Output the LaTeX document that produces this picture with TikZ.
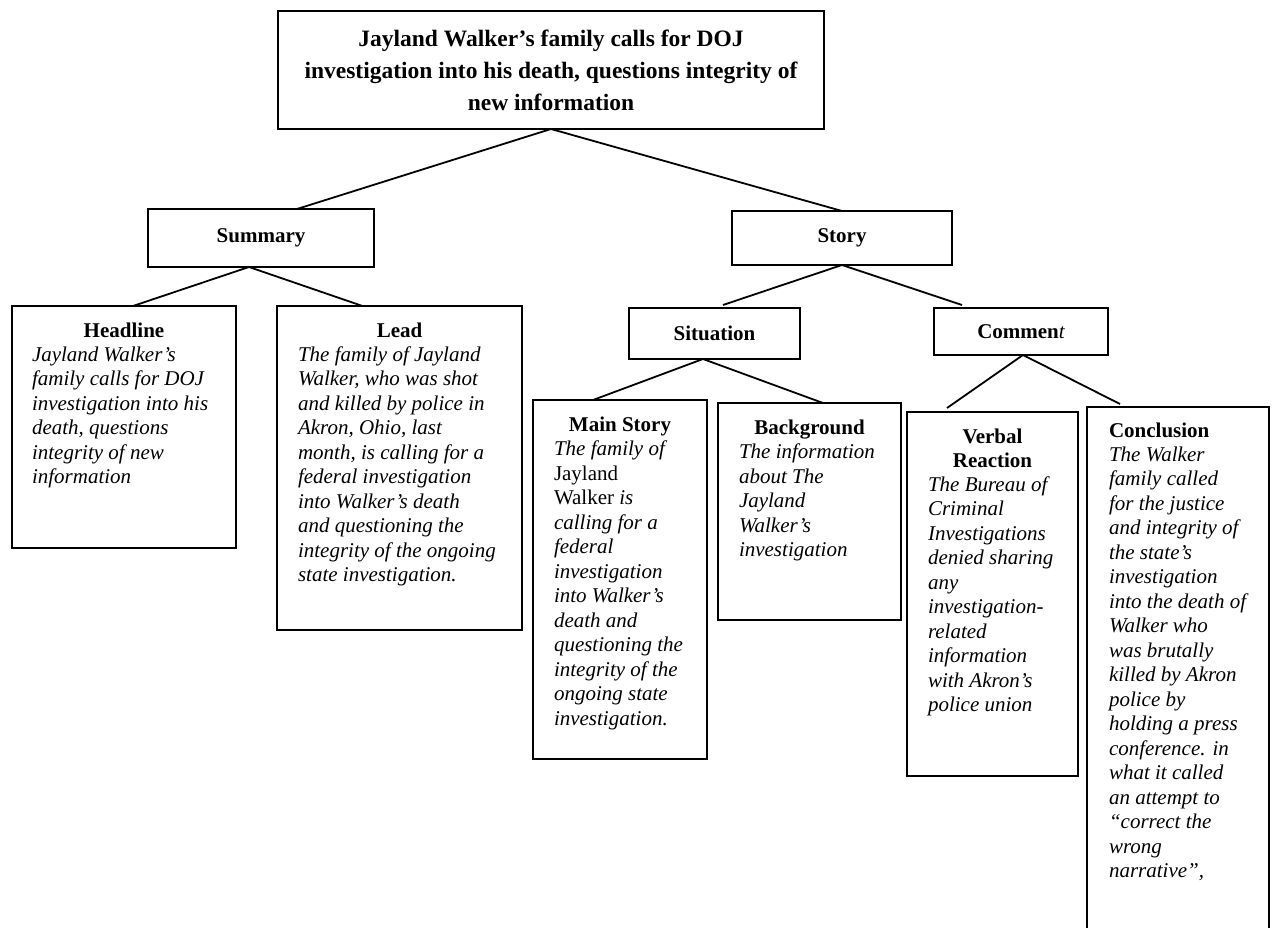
\documentclass[tikz,border=0pt]{standalone}
\usepackage{fontspec}
\setmainfont{Liberation Serif}
\begin{document}
\begin{tikzpicture}[x=1pt,y=-1pt,
  box/.style={draw=black, line width=2pt, rectangle, inner sep=0pt, outer sep=0pt, anchor=north west},
  link/.style={draw=black, line width=1.8pt},
  head/.style={inner sep=0pt, outer sep=0pt, font=\fontsize{21}{24.5}\selectfont\bfseries},
  body/.style={inner sep=0pt, outer sep=0pt, anchor=base west, font=\fontsize{21}{24.5}\selectfont\itshape}
]
\useasboundingbox (0,0) rectangle (1275,928);
\clip (0,0) rectangle (1275,928);

% boxes of the tree
\node[box, minimum width=546pt, minimum height=118pt, align=center,
      font=\fontsize{23.5}{32}\selectfont\bfseries] (title) at (278,11)
  {Jayland Walker’s family calls for DOJ\\investigation into his death, questions integrity of\\new information};
\node[box, head, draw, line width=2pt, anchor=north west, minimum width=226pt, minimum height=58pt] (summary) at (148,209) {Summary};
\node[box, head, draw, line width=2pt, anchor=north west, minimum width=220pt, minimum height=54pt] (story) at (732,211) {Story};
\node[box, head, draw, line width=2pt, anchor=north west, minimum width=171pt, minimum height=51pt] (situation) at (629,308) {Situation};
\node[box, head, draw, line width=2pt, anchor=north west, minimum width=174pt, minimum height=47pt] (comment) at (934,308) {Commen{\mdseries\itshape t}};

\node[box, minimum width=224pt, minimum height=242pt] (headline) at (12,306) {};
\node[box, minimum width=245pt, minimum height=324pt] (lead) at (277,306) {};
\node[box, minimum width=174pt, minimum height=359pt] (main) at (533,400) {};
\node[box, minimum width=183pt, minimum height=217pt] (background) at (718,403) {};
\node[box, minimum width=171pt, minimum height=364pt] (verbal) at (907,412) {};
\node[box, minimum width=182pt, minimum height=540pt] (conclusion) at (1087,407) {};

% headings
\node[head, anchor=base] (headlineH) at (124,337) {Headline};
\node[head, anchor=base] (leadH) at (399.5,337) {Lead};
\node[head, anchor=base] (mainH) at (620,431) {Main Story};
\node[head, anchor=base] (backgroundH) at (809.5,434) {Background};
\node[head, anchor=base] (verbalH) at (992.5,443)
  {\begin{tabular}[t]{@{}c@{}}Verbal\\Reaction\end{tabular}};
\node[head, anchor=base west] (conclusionH) at (1109,437) {Conclusion};

% body texts
\node[body] (headlineT) at (32,361) {\begin{tabular}[t]{@{}l@{}}
Jayland Walker’s\\
family calls for DOJ\\
investigation into his\\
death, questions\\
integrity of new\\
information
\end{tabular}};

\node[body] (leadT) at (298,361) {\begin{tabular}[t]{@{}l@{}}
The family of Jayland\\
Walker, who was shot\\
and killed by police in\\
Akron, Ohio, last\\
month, is calling for a\\
federal investigation\\
into Walker’s death\\
and questioning the\\
integrity of the ongoing\\
state investigation.
\end{tabular}};

\node[body] (mainT) at (554,455.5) {\begin{tabular}[t]{@{}l@{}}
The family of\\
{\upshape Jayland}\\
{\upshape Walker} is\\
calling for a\\
federal\\
investigation\\
into Walker’s\\
death and\\
questioning the\\
integrity of the\\
ongoing state\\
investigation.
\end{tabular}};

\node[body] (backgroundT) at (739,458.5) {\begin{tabular}[t]{@{}l@{}}
The information\\
about The\\
Jayland\\
Walker’s\\
investigation
\end{tabular}};

\node[body] (verbalT) at (928,491) {\begin{tabular}[t]{@{}l@{}}
The Bureau of\\
Criminal\\
Investigations\\
denied sharing\\
any\\
investigation-\\
related\\
information\\
with Akron’s\\
police union
\end{tabular}};

\node[body] (conclusionT) at (1109,461) {\begin{tabular}[t]{@{}l@{}}
The Walker\\
family called\\
for the justice\\
and integrity of\\
the state’s\\
investigation\\
into the death of\\
Walker who\\
was brutally\\
killed by Akron\\
police by\\
holding a press\\
conference. in\\
what it called\\
an attempt to\\
“correct the\\
wrong\\
narrative”,
\end{tabular}};

% connectors
\draw[link] (title.south) -- ([xshift=36pt]summary.north);
\draw[link] (title.south) -- (story.north);
\draw[link] ([xshift=-12pt]summary.south) -- ([xshift=9pt]headline.north);
\draw[link] ([xshift=-12pt]summary.south) -- ([xshift=-37pt]lead.north);
\draw[link] (story.south) -- ([xshift=8.5pt,yshift=3pt]situation.north);
\draw[link] (story.south) -- ([xshift=-59pt,yshift=3pt]comment.north);
\draw[link] ([xshift=-11.5pt]situation.south) -- ([xshift=-27pt]main.north);
\draw[link] ([xshift=-11.5pt]situation.south) -- ([xshift=13.5pt]background.north);
\draw[link] ([xshift=2pt]comment.south) -- ([xshift=-45.5pt,yshift=4pt]verbal.north);
\draw[link] ([xshift=2pt]comment.south) -- ([xshift=-58pt,yshift=3pt]conclusion.north);
\end{tikzpicture}
\end{document}
